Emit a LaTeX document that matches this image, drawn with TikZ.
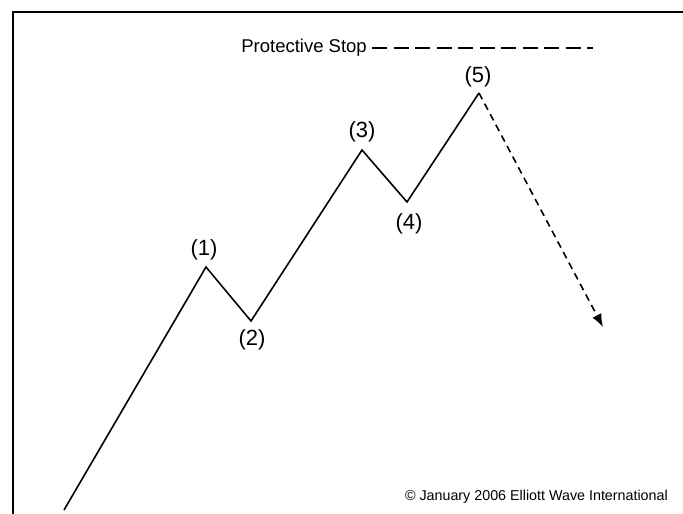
\documentclass[tikz,border=0pt]{standalone}
\usepackage{fontspec}
\setmainfont{Liberation Sans}
\usetikzlibrary{arrows.meta}
\begin{document}
\begin{tikzpicture}[x=1pt,y=-1pt,
  wave/.style={line width=1.6pt,line join=miter},
  wavelabel/.style={font=\fontsize{22}{22}\selectfont,inner sep=0pt},
  frameline/.style={line width=2.8pt}]
\useasboundingbox (0,0) rectangle (683,514);
\fill[white] (0,0) rectangle (683,514);
% frame
\coordinate (ftl) at (13,12);
\coordinate (ftr) at (683,12);
\coordinate (fbl) at (13,514);
\draw[frameline] (ftr) -- (ftl) -- (fbl);
% wave points
\coordinate (p0) at (64,510);
\coordinate (p1) at (206,267);
\coordinate (p2) at (251,321);
\coordinate (p3) at (362,150);
\coordinate (p4) at (407,202);
\coordinate (p5) at (479,93);
\coordinate (pe) at (603,327);
\draw[wave] (p0) -- (p1) -- (p2) -- (p3) -- (p4) -- (p5);
\draw[wave,dash pattern=on 7pt off 5pt,-{Latex[length=13pt,width=10pt]}] (p5) -- (pe);
% labels
\node[wavelabel] (l1) at (204,250) {(1)};
\node[wavelabel] (l2) at (252,340) {(2)};
\node[wavelabel] (l3) at (362,132) {(3)};
\node[wavelabel] (l4) at (409,224) {(4)};
\node[wavelabel] (l5) at (478,77) {(5)};
% protective stop
\node[font=\fontsize{18.5}{18.5}\selectfont,inner sep=0pt,anchor=east] (ps) at (367,48) {Protective Stop};
\coordinate (psend) at (593,48);
\draw[line width=1.8pt,dash pattern=on 15pt off 6.5pt] ([xshift=5pt]ps.east) -- (psend);
% copyright
\node[font=\fontsize{14.3}{14.3}\selectfont,inner sep=0pt,anchor=east] (cr) at (668,497) {© January 2006 Elliott Wave International};
\end{tikzpicture}
\end{document}
